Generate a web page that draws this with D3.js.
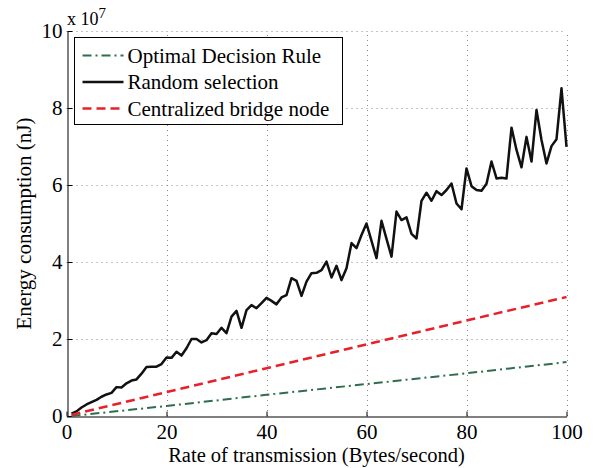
<!DOCTYPE html>
<html lang="en">
<head>
<meta charset="utf-8">
<title>Energy consumption</title>
<script src="https://d3js.org/d3.v7.min.js"></script>
<style>
  body { margin: 0; background: #fff; }
  svg text { font-family: "Liberation Serif", "Times New Roman", serif; fill: #000; }
</style>
</head>
<body>
<div id="chart"></div>
<script>
// Values in units of 1e7 nJ
const rates = d3.range(1, 101);
const randomSel = [
  0.06, 0.12, 0.22, 0.30, 0.36, 0.42, 0.50, 0.56, 0.60, 0.75,
  0.74, 0.85, 0.92, 0.95, 1.10, 1.27, 1.28, 1.28, 1.35, 1.52,
  1.51, 1.67, 1.57, 1.76, 2.00, 2.00, 1.91, 1.97, 2.15, 2.13,
  2.29, 2.15, 2.58, 2.73, 2.29, 2.75, 2.88, 2.80, 2.93, 3.07,
  2.99, 2.90, 3.08, 3.14, 3.58, 3.51, 3.12, 3.49, 3.71, 3.72,
  3.79, 4.01, 3.60, 3.90, 3.53, 3.84, 4.49, 4.36, 4.70, 5.00,
  4.55, 4.10, 5.07, 4.60, 4.14, 5.31, 5.09, 5.16, 4.73, 4.61,
  5.59, 5.80, 5.59, 5.84, 5.74, 5.87, 6.04, 5.52, 5.37, 6.43,
  5.97, 5.87, 5.85, 6.03, 6.61, 6.17, 6.19, 6.17, 7.49, 6.91,
  6.46, 7.25, 6.61, 7.95, 7.17, 6.56, 7.01, 7.19, 8.51, 6.99
];
const refRates = [1, 20, 40, 60, 80, 100];
const optimal = [0.00, 0.26, 0.55, 0.83, 1.11, 1.40];
const centralized = [0.03, 0.62, 1.24, 1.86, 2.48, 3.09];

const xTicks = [0, 20, 40, 60, 80, 100];
const yTicks = [0, 2, 4, 6, 8, 10];

const W = 602, H = 468;
const m = { left: 66.5, right: 35.5, top: 31, bottom: 52 };
const serif = '"Liberation Serif", "Times New Roman", serif';

const svg = d3.select("#chart").append("svg")
  .attr("width", W).attr("height", H);

const x = d3.scaleLinear().domain([0, 100]).range([m.left, W - m.right]);
const y = d3.scaleLinear().domain([0, 10]).range([H - m.bottom, m.top]);

// dotted grid
const grid = svg.append("g").attr("stroke", "#8a8a8a").attr("stroke-width", 1)
  .attr("stroke-dasharray", "1,4");
grid.selectAll(".gx").data(xTicks.slice(1)).join("line")
  .attr("x1", d => Math.round(x(d)) + 0.5).attr("x2", d => Math.round(x(d)) + 0.5)
  .attr("y1", y(0)).attr("y2", y(10));
grid.selectAll(".gy").data(yTicks.slice(1)).join("line")
  .attr("y1", d => Math.round(y(d)) + 0.5).attr("y2", d => Math.round(y(d)) + 0.5)
  .attr("x1", x(0)).attr("x2", x(100));

// axes with inward ticks
const xAxis = svg.append("g").attr("transform", `translate(0,${Math.round(y(0)) + 0.5})`)
  .call(d3.axisBottom(x).tickValues(xTicks).tickSizeInner(-5).tickSizeOuter(0));
const yAxis = svg.append("g").attr("transform", `translate(${Math.round(x(0)) + 0.5},0)`)
  .call(d3.axisLeft(y).tickValues(yTicks).tickSizeInner(-5).tickSizeOuter(0).tickPadding(5));
[xAxis, yAxis].forEach(a => {
  a.attr("font-family", serif).attr("font-size", 21);
  a.select(".domain").attr("stroke", "#000").attr("stroke-width", 1);
  a.selectAll(".tick line").attr("stroke", "#000");
  a.selectAll("text").style("font-family", serif).style("font-size", "21px");
});
xAxis.selectAll("text").attr("y", 22).attr("dy", 0);

// lines
const line = d3.line().x(d => x(d[0])).y(d => y(d[1]));
svg.append("path")
  .datum(refRates.map((r, i) => [r, optimal[i]]))
  .attr("d", line).attr("fill", "none")
  .attr("stroke", "#2e6e4e").attr("stroke-width", 2)
  .attr("stroke-dasharray", "9,4,2,4");
svg.append("path")
  .datum(rates.map((r, i) => [r, randomSel[i]]))
  .attr("d", line).attr("fill", "none")
  .attr("stroke", "#111").attr("stroke-width", 2.5)
  .attr("stroke-linejoin", "round");
svg.append("path")
  .datum(refRates.map((r, i) => [r, centralized[i]]))
  .attr("d", line).attr("fill", "none")
  .attr("stroke", "#e8202a").attr("stroke-width", 2.5)
  .attr("stroke-dasharray", "9,5");

// multiplier
const mult = svg.append("text").attr("x", 67).attr("y", 25).attr("font-size", 18);
mult.append("tspan").text("x 10");
mult.append("tspan").attr("dy", -7).attr("font-size", 15).text("7");

// axis titles
svg.append("text").attr("x", (x(0) + x(100)) / 2).attr("y", 462)
  .attr("text-anchor", "middle").attr("font-size", 20.5)
  .text("Rate of transmission (Bytes/second)");
svg.append("text")
  .attr("transform", `translate(31,${(y(0) + y(10)) / 2}) rotate(-90)`)
  .attr("text-anchor", "middle").attr("font-size", 21)
  .text("Energy consumption (nJ)");

// legend
const legendItems = [
  { name: "Optimal Decision Rule", color: "#2e6e4e", dash: "9,4,2,4", w: 2 },
  { name: "Random selection", color: "#111", dash: null, w: 2.5 },
  { name: "Centralized bridge node", color: "#e8202a", dash: "9,5", w: 2.5 }
];
const lg = svg.append("g").attr("transform", "translate(74.5,37.5)");
lg.append("rect").attr("width", 268).attr("height", 87)
  .attr("fill", "#fff").attr("stroke", "#000").attr("stroke-width", 1);
legendItems.forEach((d, i) => {
  const cy = 18 + i * 26.5;
  lg.append("line").attr("x1", 8).attr("x2", 49).attr("y1", cy).attr("y2", cy)
    .attr("stroke", d.color).attr("stroke-width", d.w)
    .attr("stroke-dasharray", d.dash);
  lg.append("text").attr("x", 53).attr("y", cy).attr("dy", "0.35em")
    .attr("font-size", 21).text(d.name);
});
</script>
</body>
</html>
